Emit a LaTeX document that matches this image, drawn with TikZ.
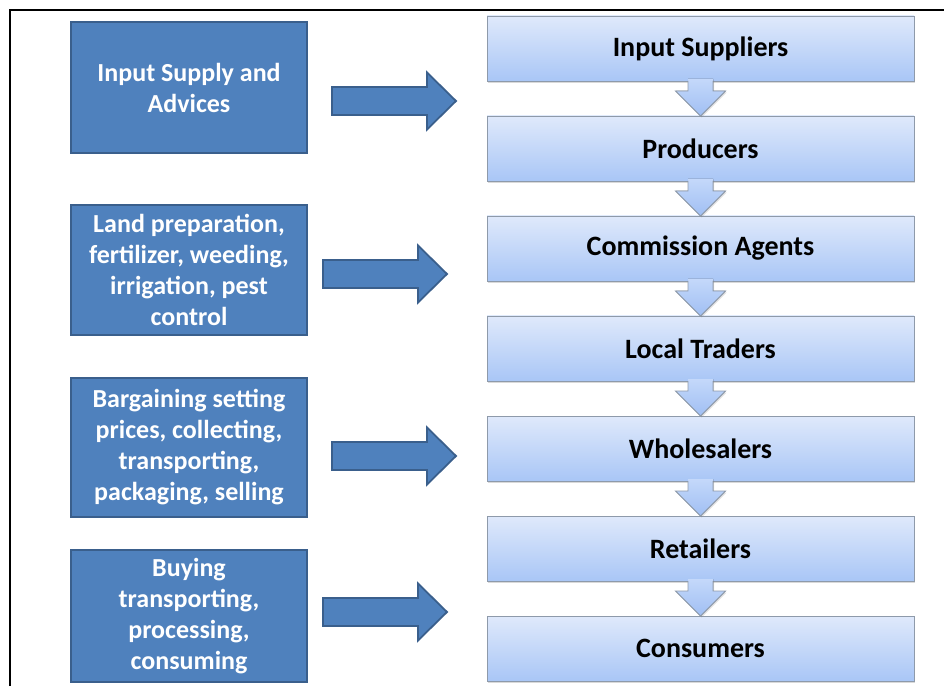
\documentclass[tikz,border=0pt]{standalone}
\usepackage{fontspec}
\setmainfont{Carlito}
\usetikzlibrary{calc, positioning}
\usetikzlibrary{shadows}

\definecolor{actfill}{HTML}{4F81BD}
\definecolor{actline}{HTML}{3A5F8C}
\definecolor{chaintop}{HTML}{DFE9FB}
\definecolor{chainbot}{HTML}{A9C6F6}
\definecolor{chainline}{HTML}{8E9AAA}
\definecolor{flowtop}{HTML}{C4D8FA}
\definecolor{flowbot}{HTML}{A0BFF3}

\tikzset{
  actbox/.style={draw=actline, line width=1.8pt, fill=actfill, text=white,
    font=\bfseries\fontsize{26}{31}\selectfont, align=center,
    minimum width=236pt, inner sep=4pt, outer sep=0pt},
  chainbox/.style={draw=chainline, line width=0.9pt,
    top color=chaintop, bottom color=chainbot,
    font=\bfseries\fontsize{28}{33}\selectfont,
    minimum width=427pt, minimum height=65pt, outer sep=0pt,
    drop shadow={shadow xshift=1.2pt, shadow yshift=-1.8pt, opacity=0.3}},
  bigarrow/.style={draw=actline, line width=1.8pt, fill=actfill},
  flowfill/.style={top color=flowtop, bottom color=flowbot,
    drop shadow={shadow xshift=1pt, shadow yshift=-1.5pt, opacity=0.25}},
  flowline/.style={draw=chainline, line width=0.9pt},
}

% fat right arrow from tail coordinate #1 to tip coordinate #2
\newcommand{\blockarrow}[2]{%
  \draw[bigarrow]
    ($(#1)+(0,\shaft)$) -- ($(#2)+(-\headlen,\shaft)$)
    -- ($(#2)+(-\headlen,\headw)$) -- (#2)
    -- ($(#2)+(-\headlen,-\headw)$) -- ($(#2)+(-\headlen,-\shaft)$)
    -- ($(#1)+(0,-\shaft)$) -- cycle;}

% short down arrow from the bottom of box #1 to the top of box #2
\newcommand{\flowarrow}[2]{%
  \fill[flowfill]
    ($(#1.south)+(-12.5,2)$) -- ($(#2.north)+(-12.5,25)$)
    -- ($(#2.north)+(-25,25)$) -- (#2.north)
    -- ($(#2.north)+(25,25)$) -- ($(#2.north)+(12.5,25)$)
    -- ($(#1.south)+(12.5,2)$) -- cycle;
  \draw[flowline]
    ($(#1.south)+(-12.5,0)$) -- ($(#2.north)+(-12.5,25)$)
    -- ($(#2.north)+(-25,25)$) -- (#2.north)
    -- ($(#2.north)+(25,25)$) -- ($(#2.north)+(12.5,25)$)
    -- ($(#1.south)+(12.5,0)$);}

\begin{document}
\begin{tikzpicture}[x=1pt, y=1pt]
\useasboundingbox (0,0) rectangle (944,686);

\def\shaft{14}
\def\headw{28.5}
\def\headlen{29}
\def\ax{189}
\def\cx{700.5}

% frame, open at right and bottom
\draw[line width=2.4pt] (10,0) -- (10,676) -- (944,676);

% activities on the left
\node[actbox, minimum height=131pt] (supply) at (\ax,598.5)
  {Input Supply and\\Advices};
\node[actbox, minimum height=130pt] (farming) at (\ax,416)
  {Land preparation,\\fertilizer, weeding,\\irrigation, pest\\control};
\node[actbox, minimum height=139pt] (trading) at (\ax,238.5)
  {Bargaining setting\\prices, collecting,\\transporting,\\packaging, selling};
\node[actbox, minimum height=132pt] (buying) at (\ax,70)
  {Buying\\transporting,\\processing,\\consuming};

% marketing chain on the right
\node[chainbox] (sup) at (\cx,637.5) {Input Suppliers};
\node[chainbox, below=35pt of sup] (prod) {Producers};
\node[chainbox, below=35pt of prod] (comm) {Commission Agents};
\node[chainbox, below=35pt of comm] (local) {Local Traders};
\node[chainbox, below=35pt of local] (whole) {Wholesalers};
\node[chainbox, below=35pt of whole] (retail) {Retailers};
\node[chainbox, below=35pt of retail] (cons) {Consumers};

\foreach \a/\b in {sup/prod, prod/comm, comm/local, local/whole,
                   whole/retail, retail/cons}
  \flowarrow{\a}{\b};

% arrows from activities to chain
\coordinate (s1) at (332,585);
\coordinate (t1) at (456,585);
\coordinate (s2) at (323,412);
\coordinate (t2) at (447,412);
\coordinate (s3) at (332,230);
\coordinate (t3) at (456,230);
\coordinate (s4) at (323,74);
\coordinate (t4) at (447,74);
\foreach \i in {1,...,4}
  \blockarrow{s\i}{t\i};
\end{tikzpicture}
\end{document}
